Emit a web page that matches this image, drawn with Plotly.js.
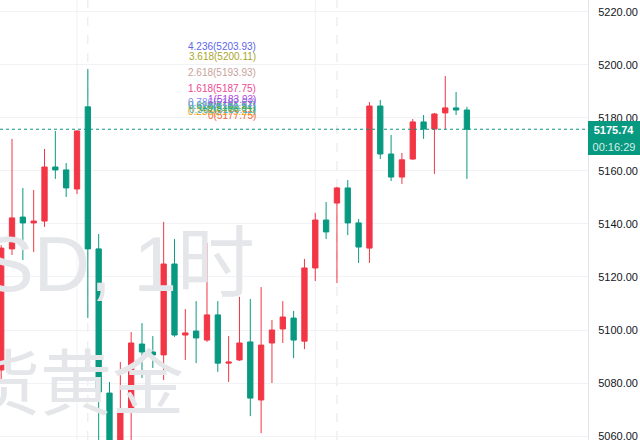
<!DOCTYPE html>
<html>
<head>
<meta charset="utf-8">
<script src="https://cdn.plot.ly/plotly-3.0.1.min.js"></script>
<style>
html,body{margin:0;padding:0;background:#fff;}
#chart{width:640px;height:440px;}
</style>
</head>
<body>
<div id="chart"></div>
<script>
// ---- data (hourly candles, index order) ----
const bars = [0,1,2,3,4,5,6,7,8,9,10,11,12,13,14,15,16,17,18,19,20,21,22,23,24,25,26,27,28,29,30,31,32,33,34,35,36,37,38,39,40,41,42,43];
const openP  = [5084.9,5130.6,5142.6,5140.4,5141.1,5161.5,5160.4,5153.2,5184.2,5130.6,5076.2,5050.0,5070.6,5094.7,5091.7,5090.6,5124.9,5098.1,5099.6,5096.2,5105.7,5087.5,5088.7,5095.5,5073.6,5095.1,5100.4,5104.5,5095.8,5123.4,5141.5,5147.9,5153.6,5140.4,5130.9,5184.5,5166.4,5157.7,5164.5,5178.5,5175.8,5181.9,5183.8,5183.0];
const highP  = [5132.0,5172.1,5153.6,5152.8,5168.3,5175.1,5163.0,5175.3,5198.5,5136.2,5080.4,5087.9,5099.2,5102.6,5097.7,5140.8,5134.3,5107.9,5110.9,5132.8,5110.9,5097.7,5112.5,5111.7,5116.2,5103.8,5110.9,5107.2,5126.8,5144.2,5148.3,5154.0,5156.6,5141.9,5186.0,5186.8,5173.6,5166.8,5179.6,5181.1,5181.9,5195.8,5189.8,5184.2];
const lowP   = [5081.5,5128.3,5126.4,5129.4,5138.9,5157.0,5150.2,5151.3,5104.5,5050.0,5045.0,5045.0,5055.0,5081.9,5085.7,5081.1,5097.4,5088.7,5087.5,5095.5,5084.2,5080.4,5088.3,5067.5,5061.1,5080.0,5095.1,5089.4,5092.8,5118.5,5134.3,5117.7,5135.8,5125.3,5125.3,5164.5,5156.2,5155.1,5164.2,5172.1,5158.9,5175.8,5181.1,5157.0];
const closeP = [5130.9,5142.3,5140.4,5141.1,5161.5,5160.4,5153.6,5175.1,5130.6,5076.6,5052.0,5070.2,5095.1,5091.7,5090.6,5124.9,5098.1,5098.9,5097.0,5105.7,5087.5,5087.9,5095.1,5074.3,5094.3,5100.0,5104.9,5096.2,5123.4,5141.5,5137.0,5153.6,5140.4,5131.3,5184.5,5166.4,5157.7,5164.2,5178.5,5175.8,5181.5,5183.8,5183.0,5175.74];

const priceTicks = [5060,5080,5100,5120,5140,5160,5180,5200,5220];
const lastPrice = 5175.74;
const countdown = "00:16:29";

const fibRatios = ["0","0.236","0.382","0.5","0.618","0.786","1","1.618","2.618","3.618","4.236"];
const fibPrices = [5177.75,5179.21,5180.11,5180.84,5181.57,5182.61,5183.93,5187.75,5193.93,5200.11,5203.93];
const fibColors = ["#f2653f","#ff9800","#3fb6c4","#4caf50","#22a88e","#8c8cf2","#b247e0","#ec4a92","#c7a29b","#a9a52a","#5c67e6"];

const gridBars  = [7,29];
const breakBars = [8,31];

const wmLine1 = "XAUUSD, 1时";
const wmLine2 = "现货黄金";

// ---- styles ----
const UP = "#f23645", DOWN = "#089981";
const FONT = "Liberation Sans, Arial, Noto Sans CJK SC, sans-serif";

const trace = {
  type: "candlestick",
  x: bars, open: openP, high: highP, low: lowP, close: closeP,
  increasing: {line: {color: UP, width: 1}, fillcolor: UP},
  decreasing: {line: {color: DOWN, width: 1}, fillcolor: DOWN},
  whiskerwidth: 0,
  hoverinfo: "skip",
  showlegend: false
};

const shapes = [];
gridBars.forEach(b => shapes.push({type:"line", xref:"x", yref:"paper", x0:b, x1:b, y0:0, y1:1,
  line:{color:"#eff1f5", width:1}, layer:"below"}));
breakBars.forEach(b => shapes.push({type:"line", xref:"x", yref:"paper", x0:b, x1:b, y0:0, y1:1,
  line:{color:"#e4e6eb", width:1, dash:"dash"}, layer:"below"}));
shapes.push({type:"line", xref:"paper", yref:"y", x0:0, x1:1, y0:lastPrice, y1:lastPrice,
  line:{color:DOWN, width:1, dash:"dot"}, layer:"above"});

const annotations = [];
// watermark
annotations.push({xref:"paper", yref:"paper", x:0.437, y:0.40, xanchor:"right", yanchor:"middle",
  text: wmLine1, showarrow:false, font:{family:FONT, size:78, color:"#e5e6ea"}});
annotations.push({xref:"paper", yref:"paper", x:0.316, y:0.142, xanchor:"right", yanchor:"middle",
  text: wmLine2, showarrow:false, font:{family:"Noto Sans CJK SC, sans-serif", size:72, color:"#e5e6ea"}});
// fib labels
fibRatios.forEach((r, i) => annotations.push({xref:"paper", yref:"y", x:0.4395, y:fibPrices[i],
  xanchor:"right", yanchor:"bottom", yshift:1, showarrow:false,
  text: r + "(" + fibPrices[i].toFixed(2) + ")",
  font:{family:FONT, size:10, color:fibColors[i]}}));
// last price tag
annotations.push({xref:"paper", yref:"y", x:1, y:lastPrice, xanchor:"left", yanchor:"middle",
  text:"<b>" + lastPrice.toFixed(2) + "</b>", showarrow:false, bgcolor:DOWN, borderpad:0, borderwidth:0,
  width:52, height:17, font:{family:FONT, size:11, color:"#ffffff"}});
annotations.push({xref:"paper", yref:"y", x:1, y:lastPrice, xanchor:"left", yanchor:"middle", yshift:-17,
  text: countdown, showarrow:false, bgcolor:DOWN, borderpad:0, borderwidth:0,
  width:52, height:17, font:{family:FONT, size:11, color:"rgba(255,255,255,0.85)"}});

const layout = {
  width: 640, height: 440,
  margin: {l:0, r:52, t:0, b:0, pad:0},
  paper_bgcolor: "#ffffff", plot_bgcolor: "#ffffff",
  showlegend: false,
  xaxis: {range:[-0.11, 54.18], showgrid:false, zeroline:false, showticklabels:false,
          rangeslider:{visible:false}, fixedrange:true, showline:false, ticks:""},
  yaxis: {side:"right", range:[5058.5, 5224.5], tickvals: priceTicks, tickformat:".2f",
          gridcolor:"#f0f2f6", gridwidth:1, zeroline:false, showline:true, linecolor:"#e0e3eb", linewidth:1,
          ticks:"", ticklabelstandoff:7, ticklabeloverflow:"allow",
          tickfont:{family:FONT, size:11, color:"#131722"}, fixedrange:true},
  shapes: shapes,
  annotations: annotations
};

Plotly.newPlot("chart", [trace], layout, {displayModeBar:false, staticPlot:true});
</script>
</body>
</html>
